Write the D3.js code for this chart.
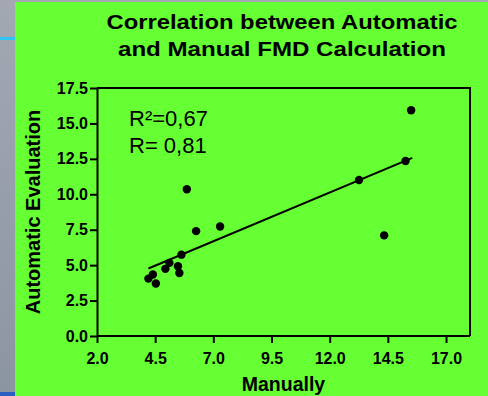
<!DOCTYPE html>
<html>
<head>
<meta charset="utf-8">
<script src="https://cdn.jsdelivr.net/npm/d3@7"></script>
<style>
  body { margin: 0; padding: 0; background: #9aa2ac; }
  svg { display: block; font-family: 'Liberation Sans', Arial, sans-serif; }
  .axis .domain { stroke: #000; stroke-width: 2px; }
  .axis .tick line { stroke: #000; stroke-width: 2px; }
  .axis .tick text { font-weight: bold; font-size: 16px; fill: #000; }
</style>
</head>
<body>
<svg width="488" height="396"></svg>
<script>
const manual = [15.5, 15.26, 13.26, 14.34, 5.86, 7.29, 6.26, 5.63, 5.11, 4.94, 5.48, 5.54, 4.40, 4.21, 4.53]
const automatic = [15.93, 12.35, 11.01, 7.1, 10.36, 7.73, 7.4, 5.74, 5.16, 4.74, 4.92, 4.45, 4.34, 4.05, 3.70]
const xTicks = [2.0, 4.5, 7.0, 9.5, 12.0, 14.5, 17.0]
const yTicks = [0.0, 2.5, 5.0, 7.5, 10.0, 12.5, 15.0, 17.5]
const titleLines = ['Correlation between Automatic', 'and Manual FMD Calculation']
const statsLines = ['R²=0,67', 'R= 0,81']

const width = 488
const height = 396
const margin = { top: 88, right: 18, bottom: 60, left: 97 }

const svg = d3.select('svg')

// slide background
const grad = svg.append('defs').append('linearGradient')
  .attr('id', 'side')
  .attr('x1', 0).attr('y1', 0).attr('x2', 0).attr('y2', 1)
grad.append('stop').attr('offset', '0%').attr('stop-color', '#a3a8b3')
grad.append('stop').attr('offset', '100%').attr('stop-color', '#8b95a1')

svg.append('rect')
  .attr('width', width).attr('height', height)
  .attr('fill', 'url(#side)')
svg.append('rect')
  .attr('x', 15).attr('y', 2)
  .attr('width', width - 15).attr('height', height - 2)
  .attr('fill', '#66ff33')
svg.append('rect')
  .attr('x', 0).attr('y', 37)
  .attr('width', 15).attr('height', 3)
  .attr('fill', '#2fc4f2')
svg.append('rect')
  .attr('x', 0).attr('y', 392)
  .attr('width', 15).attr('height', 4)
  .attr('fill', '#2a5fc0')

const x = d3.scaleLinear([2, 18.03], [margin.left, width - margin.right])
const y = d3.scaleLinear([0, 17.5], [height - margin.bottom, margin.top])

// frame
svg.append('path')
  .attr('d', `M${x(2)},${y(17.5)}H${x(18.03)}V${y(0)}`)
  .attr('fill', 'none')
  .attr('stroke', '#000')
  .attr('stroke-width', 2)

// axes
svg.append('g')
  .classed('axis', true)
  .attr('transform', `translate(0,${y(0)})`)
  .call(d3.axisBottom(x).tickValues(xTicks).tickFormat(d3.format('.1f')).tickSize(7).tickSizeOuter(0).tickPadding(10))
  .call(g => g.select('.domain').attr('d', `M${x(2)},0H${x(18.03)}`))

svg.append('g')
  .classed('axis', true)
  .attr('transform', `translate(${x(2)},0)`)
  .call(d3.axisLeft(y).tickValues(yTicks).tickFormat(d3.format('.1f')).tickSize(7).tickSizeOuter(0).tickPadding(2))

// regression line
const mx = d3.mean(manual)
const my = d3.mean(automatic)
const slope = d3.sum(manual, (v, i) => (v - mx) * (automatic[i] - my)) / d3.sum(manual, v => (v - mx) ** 2)
const icpt = my - slope * mx
const [x0, x1] = d3.extent(manual)
svg.append('line')
  .attr('x1', x(x0)).attr('y1', y(icpt + slope * x0))
  .attr('x2', x(x1 + 0.05)).attr('y2', y(icpt + slope * (x1 + 0.05)))
  .attr('stroke', '#000')
  .attr('stroke-width', 2)

// points
svg.append('g')
  .selectAll('circle')
  .data(manual.map((m, i) => [m, automatic[i]]))
  .join('circle')
  .attr('cx', d => x(d[0]))
  .attr('cy', d => y(d[1]))
  .attr('r', 4.2)
  .attr('fill', '#000')

// stats
svg.append('text')
  .attr('x', 129)
  .attr('y', 126)
  .attr('font-size', 22)
  .selectAll('tspan')
  .data(statsLines)
  .join('tspan')
  .attr('x', 129)
  .attr('dy', (d, i) => i ? 27 : 0)
  .text(d => d)

// title
const titleWidths = [351, 328]
svg.append('g')
  .selectAll('text')
  .data(titleLines)
  .join('text')
  .attr('x', 282)
  .attr('y', (d, i) => 29 + i * 27)
  .attr('text-anchor', 'middle')
  .attr('font-size', 20)
  .attr('font-weight', 'bold')
  .attr('textLength', (d, i) => titleWidths[i])
  .attr('lengthAdjust', 'spacingAndGlyphs')
  .text(d => d)

// axis titles
svg.append('text')
  .attr('x', 283.5)
  .attr('y', 391)
  .attr('text-anchor', 'middle')
  .attr('font-size', 19.5)
  .attr('font-weight', 'bold')
  .text('Manually')

svg.append('text')
  .attr('transform', `translate(40,212) rotate(-90)`)
  .attr('text-anchor', 'middle')
  .attr('font-size', 20)
  .attr('font-weight', 'bold')
  .text('Automatic Evaluation')
</script>
</body>
</html>
